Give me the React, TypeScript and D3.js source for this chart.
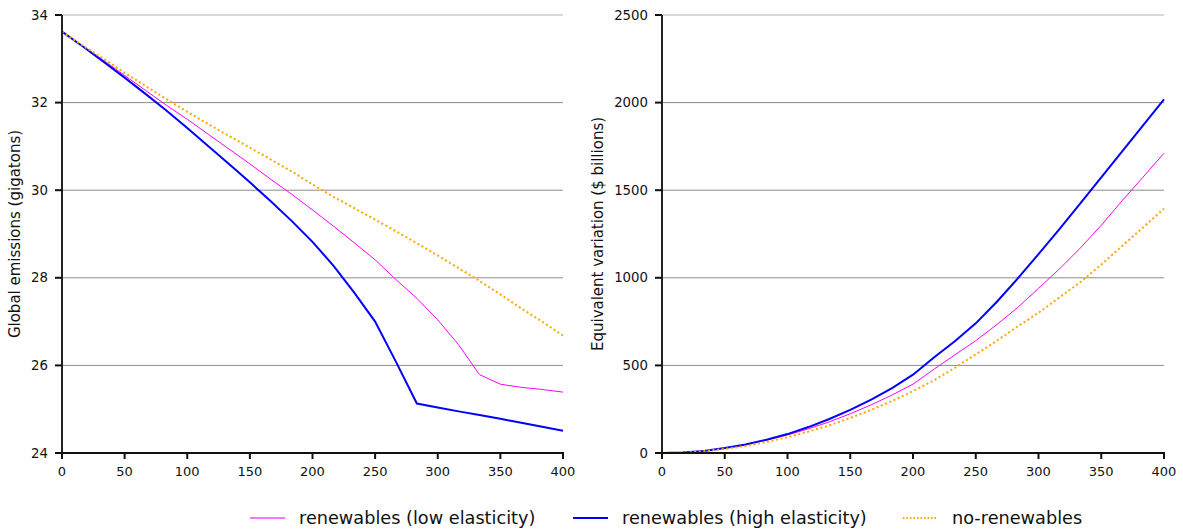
import React from "react";
import * as d3 from "d3";

const xs = [0, 16.67, 33.33, 50, 66.67, 83.33, 100, 116.67, 133.33, 150, 166.67, 183.33, 200, 216.67, 233.33, 250, 266.67, 283.33, 300, 316.67, 333.33, 350, 366.67, 383.33, 400];

const emisLow = [33.62, 33.29, 32.96, 32.62, 32.28, 31.94, 31.62, 31.28, 30.94, 30.6, 30.25, 29.91, 29.55, 29.18, 28.8, 28.41, 27.96, 27.53, 27.04, 26.47, 25.79, 25.57, 25.5, 25.45, 25.39];
const emisHigh = [33.62, 33.28, 32.93, 32.57, 32.2, 31.82, 31.42, 31.01, 30.6, 30.18, 29.75, 29.3, 28.82, 28.28, 27.66, 27.0, 26.08, 25.13, 25.04, 24.95, 24.87, 24.78, 24.69, 24.6, 24.51];
const emisNone = [33.62, 33.3, 33.0, 32.68, 32.38, 32.08, 31.79, 31.51, 31.24, 30.97, 30.7, 30.43, 30.13, 29.85, 29.59, 29.33, 29.06, 28.79, 28.51, 28.22, 27.93, 27.62, 27.3, 27.0, 26.68];

const evLow = [0, 3, 12, 27, 48, 74, 103, 138, 178, 224, 275, 331, 393, 478, 560, 641, 732, 830, 940, 1050, 1170, 1300, 1440, 1575, 1711];
const evHigh = [0, 3, 12, 28, 49, 76, 108, 148, 194, 246, 305, 370, 447, 545, 638, 740, 862, 995, 1135, 1278, 1425, 1573, 1722, 1870, 2019];
const evNone = [0, 2, 10, 23, 40, 63, 90, 122, 158, 200, 246, 297, 353, 415, 486, 563, 640, 722, 800, 888, 975, 1075, 1182, 1287, 1395];

const xTicks = [0, 50, 100, 150, 200, 250, 300, 350, 400];
const emisTicks = [24, 26, 28, 30, 32, 34];
const evTicks = [0, 500, 1000, 1500, 2000, 2500];

const seriesNames = ["renewables (low elasticity)", "renewables (high elasticity)", "no-renewables"];
const seriesColors = ["#ff00ff", "#0000ff", "#ffa500"];
const seriesWidths = [1, 2, 2];
const seriesDash = [null, null, "2,2.6"];

const FONT = "DejaVu Sans, sans-serif";
const TOP = 15;
const BOTTOM = 453;

function Panel({ x0, x1, yDomain, yTicks, series, label, labelX }: any) {
  const x = d3.scaleLinear().domain([0, 400]).range([x0, x1]);
  const y = d3.scaleLinear().domain(yDomain).range([BOTTOM, TOP]);
  const line = d3
    .line<number>()
    .x((_, i) => x(xs[i]))
    .y((d) => y(d));
  return (
    <g>
      {yTicks.map((t: number) => (
        <line key={"g" + t} x1={x0} x2={x1} y1={y(t)} y2={y(t)} stroke={t === yDomain[1] ? "#b0b0b0" : "#8c8c8c"} strokeWidth={1} />
      ))}
      {series.map((s: number[], i: number) => (
        <path
          key={"s" + i}
          d={line(s) || ""}
          fill="none"
          stroke={seriesColors[i]}
          strokeWidth={seriesWidths[i]}
          strokeDasharray={seriesDash[i] || undefined}
        />
      ))}
      <line x1={x0} x2={x0} y1={TOP} y2={BOTTOM} stroke="#222" strokeWidth={2} />
      <line x1={x0 - 1} x2={x1 + 1} y1={BOTTOM} y2={BOTTOM} stroke="#111" strokeWidth={2} />
      {yTicks.map((t: number) => (
        <g key={"yt" + t}>
          <line x1={x0 - 7} x2={x0} y1={y(t)} y2={y(t)} stroke="#111" strokeWidth={2} />
          <text x={x0 - 14} y={y(t)} dy="0.35em" textAnchor="end" fontSize={13.3} fontFamily={FONT} fill="#111">
            {t}
          </text>
        </g>
      ))}
      {xTicks.map((t: number) => (
        <g key={"xt" + t}>
          <line x1={x(t)} x2={x(t)} y1={BOTTOM} y2={BOTTOM + 6} stroke="#111" strokeWidth={2} />
          <text x={x(t)} y={BOTTOM + 18} dy="0.35em" textAnchor="middle" fontSize={13} fontFamily={FONT} fill="#111">
            {t}
          </text>
        </g>
      ))}
      <text
        transform={`translate(${labelX},${(TOP + BOTTOM) / 2}) rotate(-90)`}
        textAnchor="middle"
        dy="0.35em"
        fontSize={15}
        fontFamily={FONT}
        fill="#111"
      >
        {label}
      </text>
    </g>
  );
}

export default function App() {
  const legendX = [250, 573, 903];
  return (
    <svg
      width={1183}
      height={531}
      style={{ position: "absolute", left: 0, top: 0, background: "#fff" }}
    >
      <rect width={1183} height={531} fill="#fff" />
      <Panel
        x0={62}
        x1={563}
        yDomain={[24, 34]}
        yTicks={emisTicks}
        series={[emisLow, emisHigh, emisNone]}
        label="Global emissions (gigatons)"
        labelX={15}
      />
      <Panel
        x0={662}
        x1={1164}
        yDomain={[0, 2500]}
        yTicks={evTicks}
        series={[evLow, evHigh, evNone]}
        label="Equivalent variation ($ billions)"
        labelX={598}
      />
      {seriesNames.map((n, i) => (
        <g key={"lg" + i}>
          <line
            x1={legendX[i]}
            x2={legendX[i] + 35}
            y1={518}
            y2={518}
            stroke={seriesColors[i]}
            strokeWidth={2}
            strokeOpacity={i === 0 ? 0.55 : 1}
            strokeDasharray={seriesDash[i] ? "1.5,2" : undefined}
          />
          <text x={legendX[i] + 49} y={518} dy="0.35em" fontSize={17.7} fontFamily={FONT} fill="#111">
            {n}
          </text>
        </g>
      ))}
    </svg>
  );
}
